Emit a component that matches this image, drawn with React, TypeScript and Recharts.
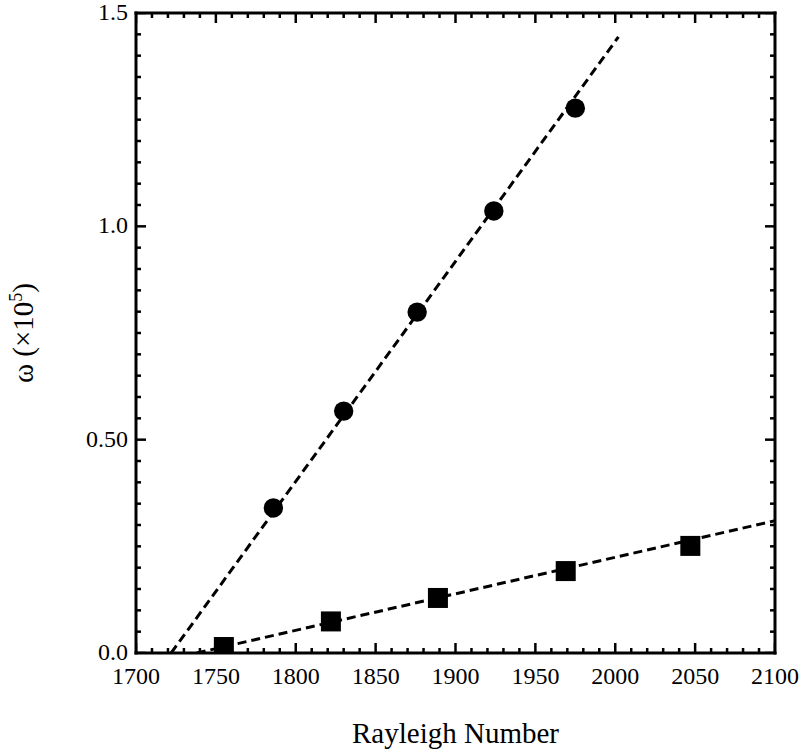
import React from 'react';
import { ComposedChart, XAxis, YAxis, Scatter, Line } from 'recharts';

const rayleighCircles = [1786, 1830, 1876, 1924, 1975];
const omegaCircles = [0.34, 0.567, 0.799, 1.036, 1.277];

const rayleighSquares = [1755, 1822, 1889, 1969, 2047];
const omegaSquares = [0.014, 0.074, 0.129, 0.192, 0.251];

// dashed fit lines, end points
const fitCirclesX = [1722, 2002];
const fitCirclesY = [0, 1.444];
const fitSquaresX = [1738, 2100];
const fitSquaresY = [0, 0.31];

const xMajorTicks = [1700, 1750, 1800, 1850, 1900, 1950, 2000, 2050, 2100];
const yMajorTicks = [0, 0.5, 1.0, 1.5];
const yTickLabels = ['0.0', '0.50', '1.0', '1.5'];

const xMinorTicks: number[] = [];
for (let v = 1700; v <= 2100; v += 10) xMinorTicks.push(v);
const yMinorTicks: number[] = [];
for (let i = 0; i <= 30; i++) yMinorTicks.push(Math.round(i * 5) / 100);

const circles = rayleighCircles.map((x, i) => ({ x, y: omegaCircles[i] }));
const squares = rayleighSquares.map((x, i) => ({ x, y: omegaSquares[i] }));
const fitCircles = fitCirclesX.map((x, i) => ({ x, y: fitCirclesY[i] }));
const fitSquares = fitSquaresX.map((x, i) => ({ x, y: fitSquaresY[i] }));

// inward frame ticks on all four sides, placed through the chart's scales
const isXMajor = (v: number) => xMajorTicks.includes(v);
const isYMajor = (v: number) => yMajorTicks.some((m) => Math.abs(m - v) < 1e-6);
const frameTicks = [
  ...xMinorTicks.map((v) => ({ x: v, y: 0, side: 'bottom', major: isXMajor(v) })),
  ...xMinorTicks.map((v) => ({ x: v, y: 1.5, side: 'top', major: isXMajor(v) })),
  ...yMinorTicks.map((v) => ({ x: 1700, y: v, side: 'left', major: isYMajor(v) })),
  ...yMinorTicks.map((v) => ({ x: 2100, y: v, side: 'right', major: isYMajor(v) })),
];

const FONT = "'Liberation Serif', 'Times New Roman', serif";

const frameLine = { stroke: '#000', strokeWidth: 3, strokeLinecap: 'square' as const };

const TickMark = (props: any) => {
  const { cx, cy, payload } = props;
  const len = payload.major ? 10 : 5;
  let d = '';
  if (payload.side === 'bottom') d = `M${cx},${cy}V${cy - len}`;
  else if (payload.side === 'top') d = `M${cx},${cy}V${cy + len}`;
  else if (payload.side === 'left') d = `M${cx},${cy}H${cx + len}`;
  else d = `M${cx},${cy}H${cx - len}`;
  return <path d={d} stroke="#000" strokeWidth={2.5} fill="none" />;
};

const XLabel = (props: any) => {
  const v = props.payload.value;
  if (!isXMajor(v)) return <g />;
  return (
    <text x={props.x} y={Number(props.y) + 31} textAnchor="middle" fontSize={24} fontFamily={FONT} fill="#000" stroke="none">
      {v}
    </text>
  );
};

const YLabel = (props: any) => {
  const idx = yMajorTicks.findIndex((m) => Math.abs(m - props.payload.value) < 1e-6);
  return (
    <text x={Number(props.x) - 8} y={Number(props.y) + 7} textAnchor="end" fontSize={24} fontFamily={FONT} fill="#000" stroke="none">
      {yTickLabels[idx]}
    </text>
  );
};

const SquareShape = (props: any) => {
  const { cx, cy } = props;
  const s = 20;
  return <rect x={cx - s / 2} y={cy - s / 2} width={s} height={s} fill="#000" />;
};

const CircleShape = (props: any) => {
  const { cx, cy } = props;
  return <circle cx={cx} cy={cy} r={9.7} fill="#000" />;
};

const App: React.FC = () => {
  return (
    <div style={{ position: 'absolute', left: 0, top: 0, width: 805, height: 753, background: '#fff' }}>
      <ComposedChart width={805} height={753} margin={{ top: 8, right: 20, bottom: 60, left: 76 }}>
        <XAxis
          dataKey="x"
          type="number"
          domain={[1700, 2100]}
          ticks={xMajorTicks}
          interval={0}
          allowDataOverflow
          height={40}
          tickSize={0}
          tickMargin={0}
          tickLine={false}
          axisLine={frameLine}
          tick={<XLabel />}
          label={{
            content: (lp: any) => {
              const vb = lp.viewBox;
              return (
                <text x={vb.x + vb.width / 2} y={vb.y + 90} textAnchor="middle" fontSize={29} fontFamily={FONT} fill="#000">
                  Rayleigh Number
                </text>
              );
            },
          }}
        />
        <XAxis
          xAxisId="top"
          orientation="top"
          type="number"
          domain={[1700, 2100]}
          height={5}
          tickLine={false}
          axisLine={frameLine}
          tick={false}
        />
        <YAxis
          type="number"
          domain={[0, 1.5]}
          ticks={yMajorTicks}
          interval={0}
          allowDataOverflow
          width={60}
          tickSize={0}
          tickMargin={0}
          tickLine={false}
          axisLine={frameLine}
          tick={<YLabel />}
          label={{
            content: (lp: any) => {
              const vb = lp.viewBox;
              const cx = 33;
              const cy = vb.y + vb.height / 2;
              return (
                <text
                  x={cx}
                  y={cy}
                  transform={`rotate(-90, ${cx}, ${cy})`}
                  textAnchor="middle"
                  fontSize={29}
                  fontFamily={FONT}
                  fill="#000"
                >
                  ω (×10
                  <tspan dy={-11} fontSize={18}>5</tspan>
                  <tspan dy={11}>)</tspan>
                </text>
              );
            },
          }}
        />
        <YAxis
          yAxisId="right"
          orientation="right"
          type="number"
          domain={[0, 1.5]}
          width={10}
          tickLine={false}
          axisLine={frameLine}
          tick={false}
        />
        <Scatter data={frameTicks} dataKey="y" shape={<TickMark />} isAnimationActive={false} />
        <Line
          data={fitCircles}
          dataKey="y"
          stroke="#000"
          strokeWidth={3}
          strokeDasharray="9 5"
          dot={false}
          activeDot={false}
          isAnimationActive={false}
        />
        <Line
          data={fitSquares}
          dataKey="y"
          stroke="#000"
          strokeWidth={3}
          strokeDasharray="9 5"
          dot={false}
          activeDot={false}
          isAnimationActive={false}
        />
        <Scatter data={circles} dataKey="y" shape={<CircleShape />} isAnimationActive={false} />
        <Scatter data={squares} dataKey="y" shape={<SquareShape />} isAnimationActive={false} />
      </ComposedChart>
    </div>
  );
};

export default App;
